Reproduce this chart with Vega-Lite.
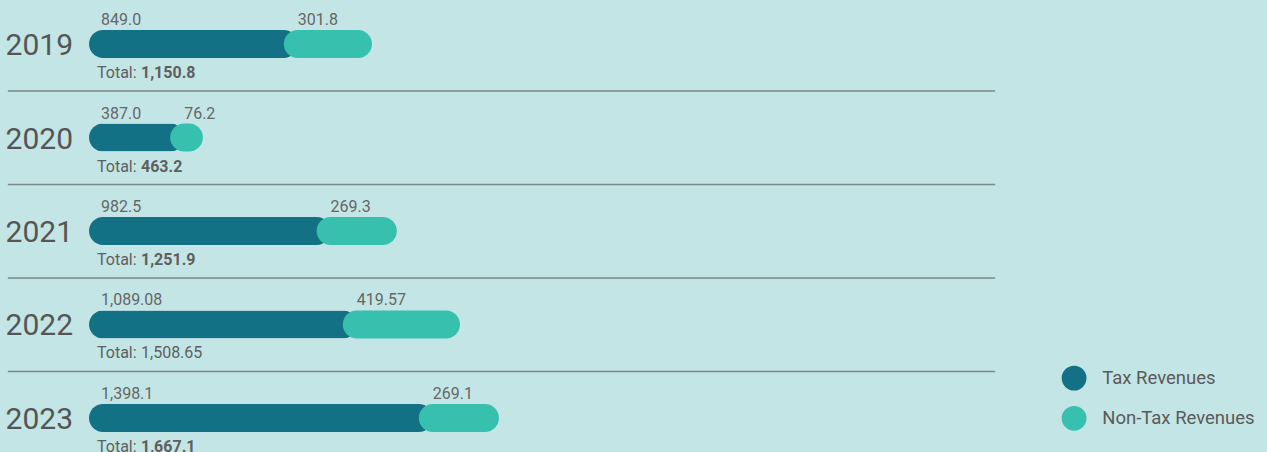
{
  "$schema": "https://vega.github.io/schema/vega-lite/v6.json",
  "width": 1267,
  "height": 452,
  "autosize": "none",
  "padding": 0,
  "background": "#c3e5e5",
  "config": {"view": {"stroke": null}, "font": "Roboto"},
  "data": {
    "values": [
      {"year": 2019, "tax": 849.0, "nontax": 301.8, "total": 1150.8, "taxLabel": "849.0", "nontaxLabel": "301.8", "totalLabel": "1,150.8"},
      {"year": 2020, "tax": 387.0, "nontax": 76.2, "total": 463.2, "taxLabel": "387.0", "nontaxLabel": "76.2", "totalLabel": "463.2"},
      {"year": 2021, "tax": 982.5, "nontax": 269.3, "total": 1251.9, "taxLabel": "982.5", "nontaxLabel": "269.3", "totalLabel": "1,251.9"},
      {"year": 2022, "tax": 1089.08, "nontax": 419.57, "total": 1508.65, "taxLabel": "1,089.08", "nontaxLabel": "419.57", "totalLabel": "1,508.65"},
      {"year": 2023, "tax": 1398.1, "nontax": 269.1, "total": 1667.1, "taxLabel": "1,398.1", "nontaxLabel": "269.1", "totalLabel": "1,667.1"}
    ]
  },
  "encoding": {
    "y": {"field": "year", "type": "quantitative", "scale": {"domain": [2018.529, 2023.364], "reverse": true, "nice": false, "zero": false, "padding": 0}, "axis": null}
  },
  "layer": [
    {
      "transform": [{"filter": "datum.year < 2023"}],
      "mark": {"type": "rule", "stroke": "#7d8789", "strokeWidth": 1.5, "yOffset": 47},
      "encoding": {
        "x": {"datum": -330, "type": "quantitative", "scale": {"domain": [-361.94, 4790.5], "nice": false, "zero": false}, "axis": null},
        "x2": {"datum": 3685}
      }
    },
    {
      "mark": {"type": "bar", "orient": "horizontal", "height": 28, "cornerRadius": 14},
      "encoding": {
        "x": {"field": "tax", "type": "quantitative", "scale": {"domain": [-361.94, 4790.5], "nice": false, "zero": false}, "axis": null},
        "color": {
          "datum": "Tax Revenues", "type": "nominal",
          "scale": {"domain": ["Tax Revenues", "Non-Tax Revenues"], "range": ["#137185", "#38c0ae"]},
          "legend": {"orient": "none", "legendX": 1061.6, "legendY": 365.6, "title": null, "symbolType": "circle", "symbolSize": 616, "symbolStrokeWidth": 0, "symbolOpacity": 1, "labelFontSize": 18.5, "labelColor": "#5a5a5a", "labelFont": "Roboto", "labelOffset": 15.6, "rowPadding": 15.2, "padding": 0}
        }
      }
    },
    {
      "mark": {"type": "bar", "orient": "horizontal", "height": 28, "cornerRadius": 14, "xOffset": -14},
      "encoding": {
        "x": {"field": "tax", "type": "quantitative", "scale": {"domain": [-361.94, 4790.5], "nice": false, "zero": false}, "axis": null},
        "x2": {"field": "total"},
        "color": {"datum": "Non-Tax Revenues", "type": "nominal"}
      }
    },
    {
      "mark": {"type": "text", "align": "right", "baseline": "alphabetic", "dx": -16, "dy": 11, "fontSize": 30, "color": "#555555"},
      "encoding": {
        "x": {"datum": 0, "type": "quantitative", "scale": {"domain": [-361.94, 4790.5], "nice": false, "zero": false}, "axis": null},
        "text": {"field": "year", "type": "ordinal"}
      }
    },
    {
      "mark": {"type": "text", "align": "left", "baseline": "alphabetic", "dx": 12, "dy": -19, "fontSize": 16, "color": "#666666"},
      "encoding": {
        "x": {"datum": 0, "type": "quantitative", "scale": {"domain": [-361.94, 4790.5], "nice": false, "zero": false}, "axis": null},
        "text": {"field": "taxLabel", "type": "nominal"}
      }
    },
    {
      "mark": {"type": "text", "align": "left", "baseline": "alphabetic", "dx": 0, "dy": -19, "fontSize": 16, "color": "#666666"},
      "encoding": {
        "x": {"field": "tax", "type": "quantitative", "scale": {"domain": [-361.94, 4790.5], "nice": false, "zero": false}, "axis": null},
        "text": {"field": "nontaxLabel", "type": "nominal"}
      }
    },
    {
      "mark": {"type": "text", "align": "left", "baseline": "alphabetic", "dx": 8, "dy": 34, "fontSize": 16, "color": "#5f5f5f"},
      "encoding": {
        "x": {"datum": 0, "type": "quantitative", "scale": {"domain": [-361.94, 4790.5], "nice": false, "zero": false}, "axis": null},
        "text": {"value": "Total:"}
      }
    },
    {
      "transform": [{"filter": "datum.year !== 2022"}],
      "mark": {"type": "text", "align": "left", "baseline": "alphabetic", "dx": 52, "dy": 34, "fontSize": 16, "fontWeight": "bold", "color": "#5f5f5f"},
      "encoding": {
        "x": {"datum": 0, "type": "quantitative", "scale": {"domain": [-361.94, 4790.5], "nice": false, "zero": false}, "axis": null},
        "text": {"field": "totalLabel", "type": "nominal"}
      }
    },
    {
      "transform": [{"filter": "datum.year === 2022"}],
      "mark": {"type": "text", "align": "left", "baseline": "alphabetic", "dx": 52, "dy": 34, "fontSize": 16, "color": "#5f5f5f"},
      "encoding": {
        "x": {"datum": 0, "type": "quantitative", "scale": {"domain": [-361.94, 4790.5], "nice": false, "zero": false}, "axis": null},
        "text": {"field": "totalLabel", "type": "nominal"}
      }
    }
  ]
}
